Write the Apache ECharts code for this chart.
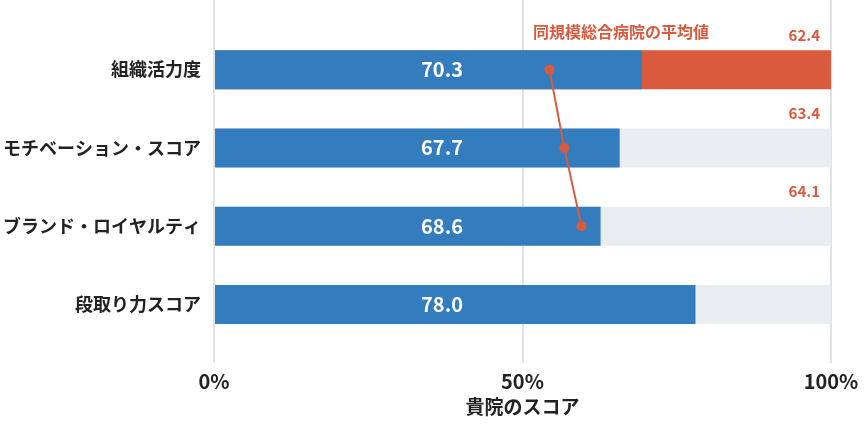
<!DOCTYPE html>
<html>
<head>
<meta charset="utf-8">
<script src="https://cdn.jsdelivr.net/npm/echarts@6/dist/echarts.min.js"></script>
<style>
html,body{margin:0;padding:0;background:#fff;}
#chart{width:864px;height:426px;}
</style>
</head>
<body>
<div id="chart"></div>
<script>
var categories = ['組織活力度', 'モチベーション・スコア', 'ブランド・ロイヤルティ', '段取り力スコア'];
var barPercent = [69.3, 65.7, 62.6, 78.0];
var scoreLabels = ['70.3', '67.7', '68.6', '78.0'];
var avgPosition = [54.3, 56.7, 59.5, null];
var avgLabels = ['62.4', '63.4', '64.1', ''];
var fullScale = [100, 100, 100, 100];
var xTicks = [0, 50, 100];
var avgName = '同規模総合病院の平均値';
var xAxisName = '貴院のスコア';

var FONT = '"Noto Sans CJK JP", "Noto Sans", sans-serif';
var BLUE = '#337cbd', RED = '#da5a3e', GRAY = '#eaedf0', TEXT = '#222222', GRID = '#dee3e9';

var chart = echarts.init(document.getElementById('chart'), null, {renderer: 'canvas'});
chart.setOption({
  animation: false,
  textStyle: {fontFamily: FONT},
  title: {
    text: avgName, left: 533, top: 24, padding: 0,
    textStyle: {color: RED, fontSize: 16, fontWeight: 'bold', fontFamily: FONT}
  },
  grid: [
    {left: 214, right: 33, top: 0, bottom: 63},
    {left: 214, right: 33, top: 30.5, bottom: 82.5}
  ],
  xAxis: [
    {
      gridIndex: 0, type: 'value', min: xTicks[0], max: xTicks[xTicks.length - 1], interval: 50,
      axisLine: {show: false}, axisTick: {show: false},
      splitLine: {show: true, lineStyle: {color: GRID, width: 2}},
      axisLabel: {formatter: '{value}%', color: TEXT, fontSize: 20, fontWeight: 'bold', margin: 8, fontFamily: FONT},
      name: xAxisName, nameLocation: 'middle', nameGap: 34,
      nameTextStyle: {color: TEXT, fontSize: 19, fontWeight: 'bold', fontFamily: FONT}
    },
    {
      gridIndex: 1, type: 'value', min: 0, max: 100, show: false
    }
  ],
  yAxis: [
    {gridIndex: 0, type: 'value', show: false},
    {
      gridIndex: 1, type: 'category', data: categories, inverse: true,
      axisLine: {show: false}, axisTick: {show: false}, splitLine: {show: false},
      axisLabel: {color: TEXT, fontSize: 18, fontWeight: 'bold', margin: 14, fontFamily: FONT}
    }
  ],
  series: [
    {
      type: 'bar', xAxisIndex: 1, yAxisIndex: 1, barWidth: 39, barGap: '-100%',
      data: fullScale.map(function (v, i) {
        return {value: v, itemStyle: {color: i === 0 ? RED : GRAY}};
      }),
      label: {
        show: true, position: ['100%', 0], offset: [-11, -15], align: 'right', verticalAlign: 'middle',
        color: RED, fontSize: 15, fontWeight: 'bold', fontFamily: FONT,
        formatter: function (p) { return avgLabels[p.dataIndex]; }
      },
      silent: true, z: 2
    },
    {
      type: 'bar', xAxisIndex: 1, yAxisIndex: 1, barWidth: 39, barGap: '-100%',
      data: barPercent,
      itemStyle: {color: BLUE},
      label: {
        show: true, position: [227, '50%'], align: 'center', verticalAlign: 'middle',
        color: '#ffffff', fontSize: 20, fontWeight: 'bold', fontFamily: FONT,
        formatter: function (p) { return scoreLabels[p.dataIndex]; }
      },
      silent: true, z: 3
    },
    {
      type: 'line', xAxisIndex: 1, yAxisIndex: 1, name: avgName,
      data: avgPosition.map(function (v) { return v === null ? '-' : v; }),
      symbol: 'circle', symbolSize: 10, showSymbol: true,
      lineStyle: {color: RED, width: 2}, itemStyle: {color: RED},
      silent: true, z: 5
    }
  ]
});
</script>
</body>
</html>
